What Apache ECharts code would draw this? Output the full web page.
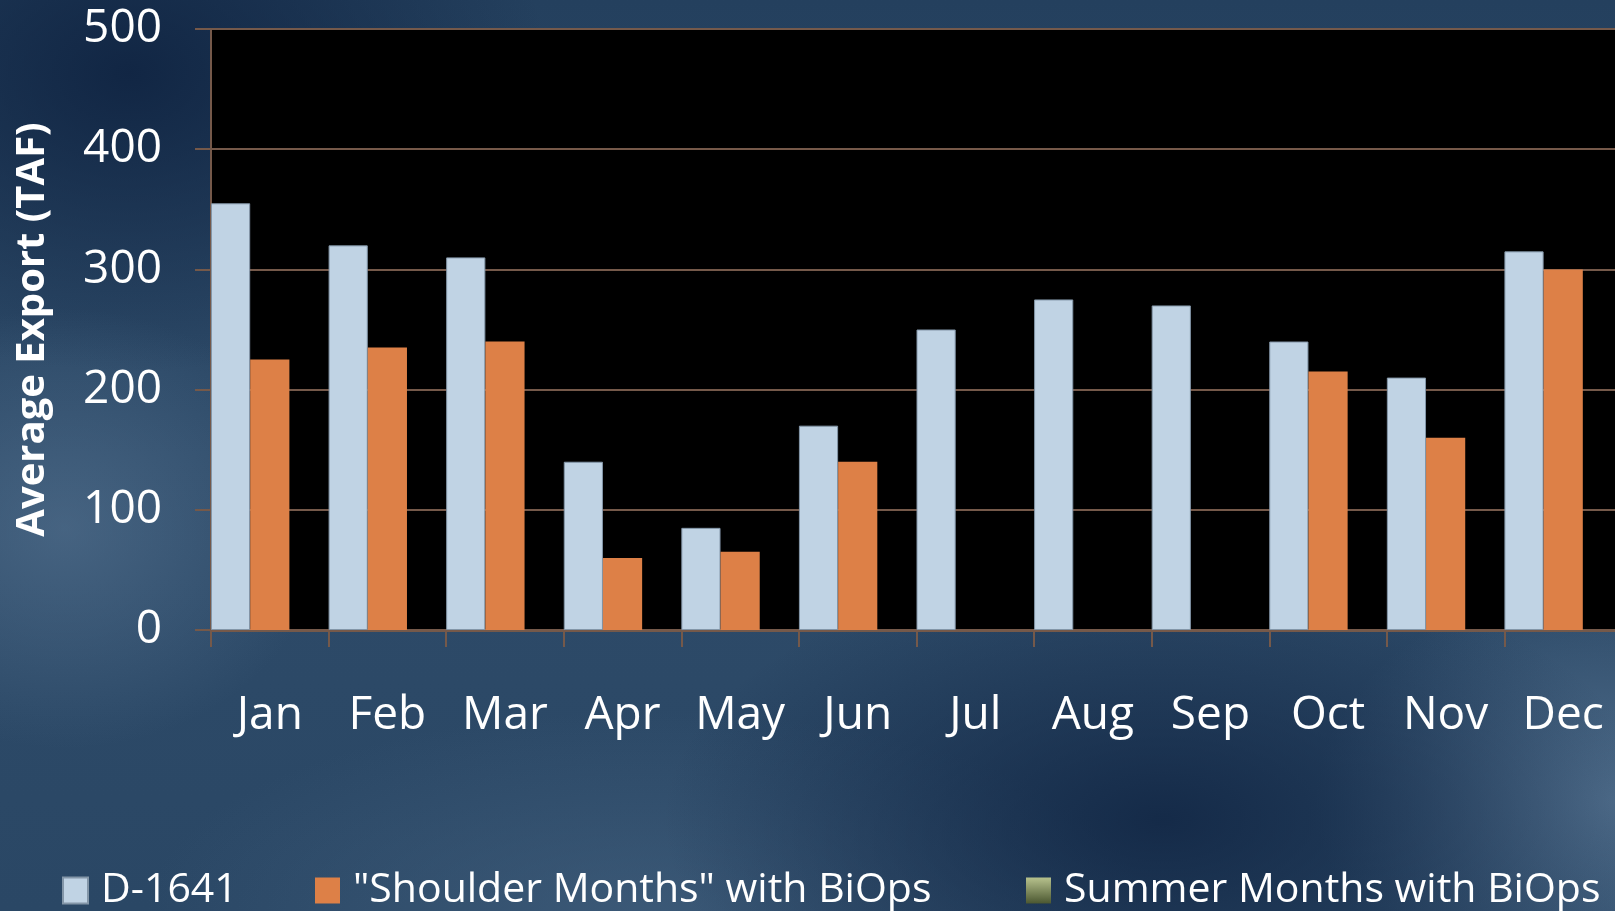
<!DOCTYPE html>
<html>
<head>
<meta charset="utf-8">
<script src="https://cdn.jsdelivr.net/npm/echarts@6/dist/echarts.min.js"></script>
<style>
  html, body { margin: 0; padding: 0; }
  body {
    width: 1615px; height: 911px; overflow: hidden;
    background:
      radial-gradient(ellipse 260px 220px at 4% 58%, rgba(90,120,150,0.55), rgba(90,120,150,0) 100%),
      radial-gradient(ellipse 420px 300px at 8% 8%, rgba(15,35,65,0.9), rgba(15,35,65,0) 100%),
      radial-gradient(ellipse 500px 260px at 72% 90%, rgba(15,35,65,0.8), rgba(15,35,65,0) 100%),
      radial-gradient(ellipse 300px 220px at 100% 88%, rgba(95,125,155,0.7), rgba(95,125,155,0) 100%),
      radial-gradient(ellipse 500px 200px at 40% 100%, rgba(70,100,130,0.6), rgba(70,100,130,0) 100%),
      linear-gradient(180deg, #24405e 0%, #2e4b69 50%, #2a4765 100%);
  }
  #chart { width: 1615px; height: 911px; }
</style>
</head>
<body>
<div id="chart"></div>
<script>
const months = ['Jan', 'Feb', 'Mar', 'Apr', 'May', 'Jun', 'Jul', 'Aug', 'Sep', 'Oct', 'Nov', 'Dec']
const d1641 = [355, 320, 310, 140, 85, 170, 250, 275, 270, 240, 210, 315]
const shoulder = [225, 235, 240, 60, 65, 140, null, null, null, 215, 160, 300]
const summer = [null, null, null, null, null, null, null, null, null, null, null, null]
const seriesNames = ['D-1641', '"Shoulder Months" with BiOps', 'Summer Months with BiOps']

const font = '"Open Sans", sans-serif'
const brown = '#75594a'

const chart = echarts.init(document.getElementById('chart'))

const legendBase = {
  top: 870,
  padding: 0,
  itemWidth: 25,
  itemHeight: 26,
  icon: 'rect',
  textStyle: { color: '#fff', fontSize: 41, fontFamily: font, padding: [0, 0, 0, 8] }
}

chart.setOption({
  backgroundColor: 'transparent',
  animation: false,
  grid: {
    left: 211,
    top: 29,
    width: 1411,
    height: 601,
    containLabel: false,
    outerBoundsMode: 'none',
    show: true,
    backgroundColor: '#000',
    borderWidth: 0
  },
  legend: [
    Object.assign({ left: 62, data: [seriesNames[0]] }, legendBase),
    Object.assign({ left: 315, data: [seriesNames[1]] }, legendBase),
    Object.assign({ left: 1026, data: [seriesNames[2]] }, legendBase)
  ],
  xAxis: {
    type: 'category',
    data: months,
    axisLine: { lineStyle: { color: brown, width: 3 } },
    axisTick: { show: true, length: 17, lineStyle: { color: brown, width: 2 } },
    axisLabel: { color: '#fff', fontSize: 46, fontFamily: font, margin: 63, interval: 0 }
  },
  yAxis: {
    type: 'value',
    min: 0,
    max: 500,
    interval: 100,
    name: 'Average Export (TAF)',
    nameLocation: 'middle',
    nameRotate: 90,
    nameGap: 158,
    nameTextStyle: { color: '#fff', fontSize: 40, fontWeight: 'bold', fontFamily: font },
    axisLine: { show: true, lineStyle: { color: brown, width: 2 } },
    axisTick: { show: true, length: 16, lineStyle: { color: brown, width: 2 } },
    axisLabel: { color: '#fff', fontSize: 46, fontFamily: font, margin: 49 },
    splitLine: { show: true, lineStyle: { color: brown, width: 2 } }
  },
  series: [
    {
      name: seriesNames[0],
      type: 'bar',
      data: d1641,
      barGap: '0%',
      barCategoryGap: '0%',
      itemStyle: { color: '#c0d3e4', borderColor: '#8396a8', borderWidth: 1 }
    },
    {
      name: seriesNames[1],
      type: 'bar',
      data: shoulder,
      itemStyle: { color: '#dd8047' }
    },
    {
      name: seriesNames[2],
      type: 'bar',
      data: summer,
      itemStyle: {
        color: new echarts.graphic.LinearGradient(0, 0, 0, 1, [
          { offset: 0, color: '#b7c28d' },
          { offset: 1, color: '#4b5731' }
        ])
      }
    }
  ]
})
</script>
</body>
</html>
